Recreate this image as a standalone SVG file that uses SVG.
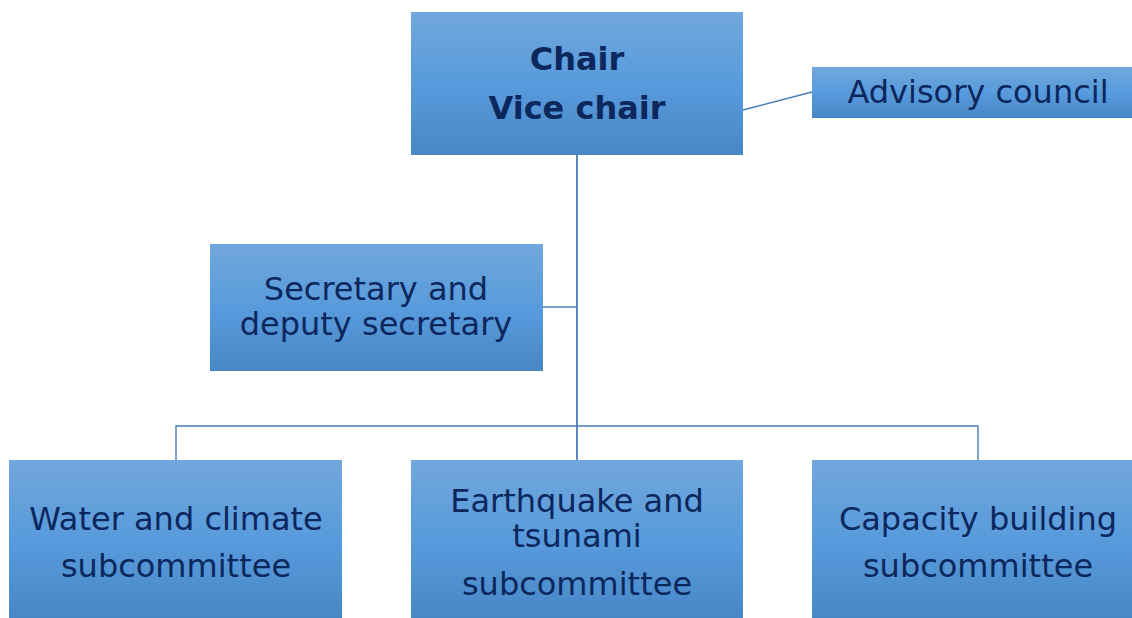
<svg xmlns="http://www.w3.org/2000/svg" width="1132" height="618" viewBox="0 0 1132 618">
  <defs>
    <linearGradient id="boxGrad" x1="0" y1="0" x2="0" y2="1">
      <stop offset="0" stop-color="#71a7dc"/>
      <stop offset="0.5" stop-color="#589bdc"/>
      <stop offset="1" stop-color="#4887c7"/>
    </linearGradient>
  </defs>
  <style>
    .box { fill: url(#boxGrad); }
    .t { font-family: "DejaVu Sans", Verdana, sans-serif; font-size: 32px; fill: #0c275c; text-anchor: middle; }
    .b { font-weight: bold; }
    .conn { stroke: #4a7ebb; stroke-width: 1.4; fill: none; }
  </style>
  <rect width="1132" height="618" fill="#ffffff"/>
  <g id="connectors">
    <line class="conn" x1="577" y1="155" x2="577" y2="460" style="stroke-width:1.8"/>
    <line class="conn" x1="743" y1="110" x2="812" y2="92"/>
    <line class="conn" x1="543" y1="307" x2="577" y2="307"/>
    <polyline class="conn" points="176,460 176,426 978,426 978,460"/>
  </g>
  <g id="chair">
    <rect class="box" x="411" y="12" width="332" height="143"/>
    <text class="t b" x="577" y="70">Chair</text>
    <text class="t b" x="577" y="119">Vice chair</text>
  </g>
  <g id="advisory">
    <rect class="box" x="812" y="67" width="320" height="51"/>
    <text class="t" x="978" y="103">Advisory council</text>
  </g>
  <g id="secretary">
    <rect class="box" x="210" y="244" width="333" height="127"/>
    <text class="t" x="376" y="300">Secretary and</text>
    <text class="t" x="376" y="335">deputy secretary</text>
  </g>
  <g id="water">
    <rect class="box" x="9" y="460" width="333" height="158"/>
    <text class="t" x="176" y="530">Water and climate</text>
    <text class="t" x="176" y="577">subcommittee</text>
  </g>
  <g id="earthquake">
    <rect class="box" x="411" y="460" width="332" height="158"/>
    <text class="t" x="577" y="512">Earthquake and</text>
    <text class="t" x="577" y="547">tsunami</text>
    <text class="t" x="577" y="595">subcommittee</text>
  </g>
  <g id="capacity">
    <rect class="box" x="812" y="460" width="320" height="158"/>
    <text class="t" x="978" y="530">Capacity building</text>
    <text class="t" x="978" y="577">subcommittee</text>
  </g>
</svg>
